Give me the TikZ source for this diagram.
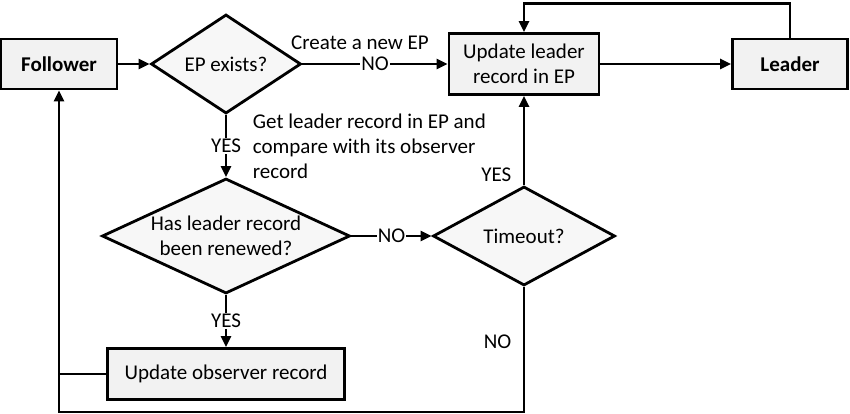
\documentclass[tikz,border=0pt]{standalone}
\usepackage{fontspec}
\setmainfont{Carlito}
\usetikzlibrary{shapes.geometric,arrows.meta,positioning}

\tikzset{
  box/.style={draw, line width=2.8pt, fill=black!5, align=center, inner sep=0pt},
  decision/.style={diamond, draw, line width=2.8pt, fill=black!3, align=center, inner sep=0pt},
  flow/.style={line width=2.8pt, -{Triangle[length=11pt,width=10pt]}},
  line/.style={line width=2.8pt},
  tag/.style={fill=white, inner sep=1pt},
}

\begin{document}
\begin{tikzpicture}[x=1pt,y=-1pt,font=\fontsize{21}{25}\selectfont]
  \useasboundingbox (0,0) rectangle (850,414);
  % boxes and decisions
  \node[box, minimum width=116, minimum height=50] (follower) at (59,64) {\bfseries Follower};
  \node[decision, minimum width=150, minimum height=99, shape aspect=1.5] (exists) at (226,64) {EP exists?};
  \node[box, minimum width=150, minimum height=61] (update) at (524,64) {Update leader\\record in EP};
  \node[box, minimum width=115, minimum height=50] (leader) at (790,64) {\bfseries Leader};
  \node[decision, minimum width=248, minimum height=115, shape aspect=2.14] (renewed) at (226,236) {Has leader record\\been renewed?};
  \node[decision, minimum width=182, minimum height=99, shape aspect=1.8] (timeout) at (524,236) {Timeout?};
  \node[box, minimum width=237, minimum height=51] (observer) at (226,374) {Update observer record};
  \coordinate (corner) at (59,412);
  % top row
  \draw[flow] (follower) -- (exists);
  \draw[flow] (exists) -- node[tag] (noa) {NO} (update);
  \node[above=2pt of noa, xshift=-15pt] (newep) {Create a new EP};
  \draw[flow] (update) -- (leader);
  \draw[flow] (leader.north) -- ++(0,-34) -| (update.north);
  % middle
  \draw[flow] (exists) -- node[tag] (yesa) {YES} (renewed);
  \node[right=6pt of yesa, align=left] (gettext) {Get leader record in EP and\\compare with its observer\\record};
  \draw[flow] (renewed) -- node[tag] (nob) {NO} (timeout);
  \draw[flow] (renewed) -- node[tag] (yesb) {YES} (observer);
  \draw[flow] (timeout) -- node[pos=0.12, left=8pt] (yesc) {YES} (update);
  % back to follower
  \draw[flow] (timeout.south) |- node[pos=0.22, left=8pt] (noc) {NO} (corner) -- (follower.south);
  \draw[line] (observer.west) -- (observer.west -| follower.south);
\end{tikzpicture}
\end{document}
